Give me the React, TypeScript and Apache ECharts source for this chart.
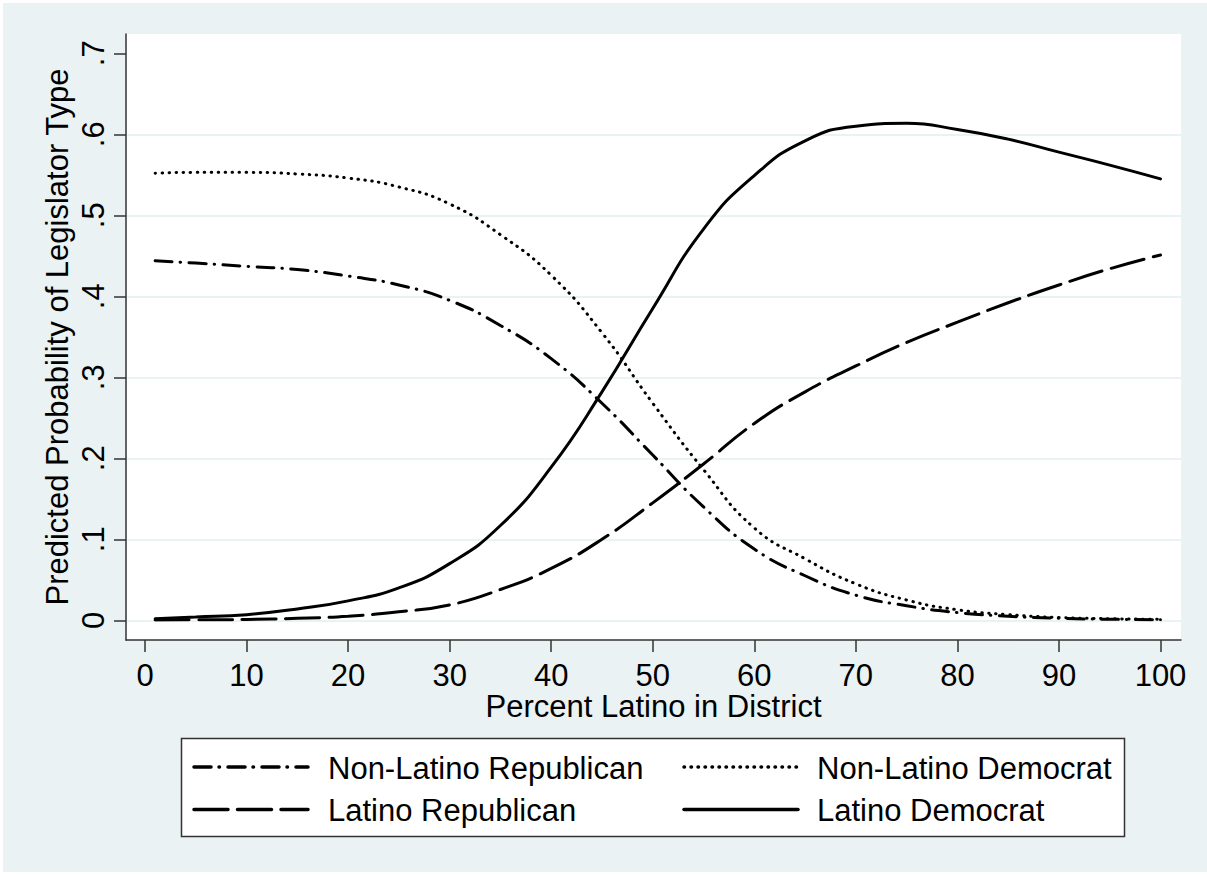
import React, { useEffect, useRef } from "react";
import * as echarts from "echarts";

const percentLatino = [1, 5, 10, 15, 20, 25, 30, 35, 40, 45, 50, 55, 60, 65, 70, 75, 80, 85, 90, 95, 100];
const nonLatinoRepublican = [0.444, 0.441, 0.437, 0.433, 0.425, 0.414, 0.395, 0.364, 0.323, 0.268, 0.204, 0.14, 0.088, 0.055, 0.031, 0.018, 0.0095, 0.005, 0.0025, 0.0013, 0.0007];
const latinoRepublican = [0.0003, 0.0006, 0.001, 0.0025, 0.005, 0.0105, 0.019, 0.038, 0.064, 0.1, 0.145, 0.193, 0.243, 0.282, 0.314, 0.343, 0.368, 0.392, 0.414, 0.434, 0.451];
const nonLatinoDemocrat = [0.552, 0.553, 0.553, 0.551, 0.546, 0.535, 0.514, 0.476, 0.426, 0.355, 0.268, 0.186, 0.114, 0.076, 0.045, 0.025, 0.013, 0.007, 0.0035, 0.002, 0.0012];
const latinoDemocrat = [0.002, 0.004, 0.007, 0.014, 0.024, 0.04, 0.07, 0.117, 0.189, 0.282, 0.385, 0.483, 0.549, 0.592, 0.61, 0.6135, 0.606, 0.594, 0.578, 0.562, 0.545];

const seriesNames = ["Non-Latino Republican", "Latino Republican", "Non-Latino Democrat", "Latino Democrat"];
const xTickValues = [0, 10, 20, 30, 40, 50, 60, 70, 80, 90, 100];
const yTickValues = [0, 0.1, 0.2, 0.3, 0.4, 0.5, 0.6, 0.7];
const xTitle = "Percent Latino in District";
const yTitle = "Predicted Probability of Legislator Type";

const FONT = "'Liberation Sans', Arial, Helvetica, sans-serif";
const FS = 31;
const LH = 24;
const BG = "#EAF2F3";
const AXIS = "#333333";

const DASH_DOT = [17, 8, 0.5, 8.5];
const LONG_DASH = [34, 9.5];
const DOTTED = [0.5, 6.5];

function pairs(ys: number[]) {
  return percentLatino.map((x, i) => [x, ys[i]]);
}

function fmtY(v: number) {
  if (Math.abs(v) < 1e-9) return "0";
  return v.toFixed(1).replace(/^0/, "");
}

export default function App() {
  const ref = useRef<HTMLDivElement>(null);
  useEffect(() => {
    document.body.style.margin = "0";
    const chart = echarts.init(ref.current!, null, { renderer: "svg" });

    const styles = [
      { type: DASH_DOT, data: nonLatinoRepublican },
      { type: LONG_DASH, data: latinoRepublican },
      { type: DOTTED, data: nonLatinoDemocrat },
      { type: "solid", data: latinoDemocrat },
    ];

    const hidden = (gridIndex: number, min: number, max: number) => ({
      gridIndex,
      type: "value",
      min,
      max,
      show: false,
    });

    const legendRows = [
      { col: 0, row: 0, idx: 0 },
      { col: 1, row: 0, idx: 2 },
      { col: 0, row: 1, idx: 1 },
      { col: 1, row: 1, idx: 3 },
    ];
    const legendGraphics: any[] = [
      {
        type: "rect",
        shape: { x: 181.5, y: 738.5, width: 943, height: 98 },
        style: { fill: "#ffffff", stroke: AXIS, lineWidth: 1.5 },
        z: 5,
      },
    ];
    legendRows.forEach((r) => {
      const x0 = 194 + r.col * 490;
      const y = 767 + r.row * 42.5;
      const st = styles[r.idx];
      legendGraphics.push({
        type: "line",
        shape: { x1: x0, y1: y, x2: x0 + 114, y2: y },
        style: {
          stroke: "#000",
          lineWidth: 3.5,
          lineCap: "round",
          lineDash: st.type === "solid" ? null : st.type,
        },
        z: 6,
      });
      legendGraphics.push({
        type: "text",
        x: 328 + r.col * 489,
        y: y + 1,
        style: {
          text: seriesNames[r.idx],
          fontSize: FS,
          lineHeight: LH,
          fontFamily: FONT,
          fill: "#000",
          align: "left",
          verticalAlign: "middle",
          textAlign: "left",
          textVerticalAlign: "middle",
        },
        z: 6,
      });
    });

    const option: any = {
      animation: false,
      backgroundColor: "#ffffff",
      graphic: [
        {
          type: "rect",
          shape: { x: 3, y: 3, width: 1204, height: 869 },
          style: { fill: BG },
          z: -20,
          silent: true,
        },
        {
          type: "rect",
          shape: { x: 126, y: 34, width: 1055, height: 606 },
          style: { fill: "#ffffff" },
          z: -10,
          silent: true,
        },
        {
          type: "text",
          x: 653.5,
          y: 706,
          style: {
            text: xTitle,
            fontSize: FS,
            lineHeight: LH,
            fontFamily: FONT,
            fill: "#000",
            align: "center",
            verticalAlign: "middle",
            textAlign: "center",
            textVerticalAlign: "middle",
          },
        },
        {
          type: "text",
          x: 57,
          y: 337,
          rotation: Math.PI / 2,
          style: {
            text: yTitle,
            fontSize: FS,
            lineHeight: LH,
            fontFamily: FONT,
            fill: "#000",
            align: "center",
            verticalAlign: "middle",
            textAlign: "center",
            textVerticalAlign: "middle",
          },
        },
        ...legendGraphics,
      ],
      grid: [
        { left: 126, top: 34, width: 1055, height: 606 },
        { left: 126, top: 53.3, width: 1055, height: 567 },
        { left: 145, top: 34, width: 1015.5, height: 606 },
        { left: 145, top: 53.3, width: 1015.5, height: 567 },
      ],
      xAxis: [
        {
          gridIndex: 0,
          type: "value",
          min: 0,
          max: 1,
          axisLine: { show: true, onZero: false, lineStyle: { color: AXIS, width: 1.5 } },
          axisTick: { show: false },
          axisLabel: { show: false },
          splitLine: { show: false },
        },
        hidden(1, 0, 1),
        {
          gridIndex: 2,
          type: "value",
          min: 0,
          max: 100,
          interval: 10,
          axisLine: { show: false, onZero: false },
          axisTick: { show: true, length: 12, lineStyle: { color: AXIS, width: 1.5 } },
          axisLabel: {
            margin: 23.5,
            fontSize: FS,
            lineHeight: LH,
            fontFamily: FONT,
            color: "#000",
            customValues: xTickValues,
          },
          splitLine: { show: false },
        },
        hidden(3, 0, 100),
      ],
      yAxis: [
        {
          gridIndex: 0,
          type: "value",
          min: 0,
          max: 1,
          axisLine: { show: true, onZero: false, lineStyle: { color: AXIS, width: 1.5 } },
          axisTick: { show: false },
          axisLabel: { show: false },
          splitLine: { show: false },
        },
        {
          gridIndex: 1,
          type: "value",
          min: 0,
          max: 0.7,
          interval: 0.1,
          axisLine: { show: false, onZero: false },
          axisTick: { show: true, length: 12, lineStyle: { color: AXIS, width: 1.5 } },
          axisLabel: {
            rotate: 90,
            margin: 20.5,
            fontSize: FS,
            lineHeight: LH,
            fontFamily: FONT,
            color: "#000",
            formatter: (v: number) => fmtY(v),
          },
          splitLine: {
            show: true,
            showMinLine: true,
            showMaxLine: false,
            lineStyle: { color: BG, width: 2 },
          },
        },
        hidden(2, 0, 1),
        hidden(3, 0, yTickValues[yTickValues.length - 1]),
      ],
      series: styles.map((st, i) => ({
        name: seriesNames[i],
        type: "line",
        xAxisIndex: 3,
        yAxisIndex: 3,
        data: pairs(st.data),
        showSymbol: false,
        symbol: "none",
        smooth: 0.5,
        lineStyle: { color: "#000", width: 3, type: st.type, cap: "round" },
        z: 3,
      })),
    };

    chart.setOption(option);
    return () => chart.dispose();
  }, []);

  return <div ref={ref} style={{ width: 1207, height: 875 }} />;
}
